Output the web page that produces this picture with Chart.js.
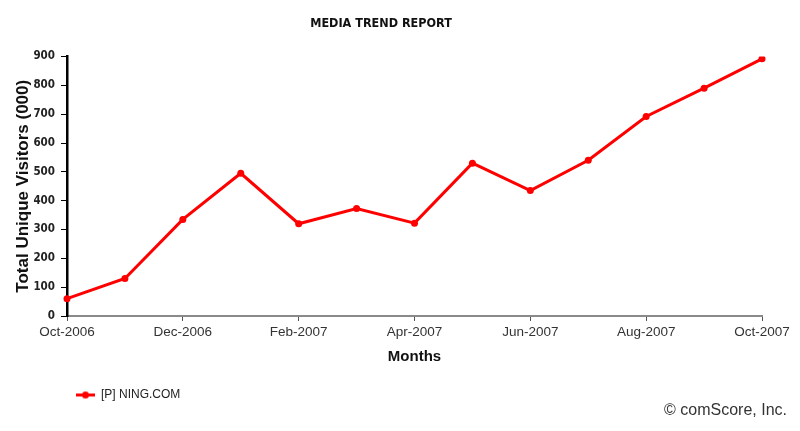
<!DOCTYPE html>
<html>
<head>
<meta charset="utf-8">
<title>Media Trend Report</title>
<script src="https://cdn.jsdelivr.net/npm/chart.js@4.4.1/dist/chart.umd.min.js"></script>
<style>
  body { margin: 0; background: #fff; }
  #wrap { position: relative; width: 800px; height: 431px; }
  #copy {
    position: absolute; right: 13px; top: 401px; line-height: 18px;
    font: 16px "Liberation Sans", Arial, sans-serif; color: #333;
  }
</style>
</head>
<body>
<div id="wrap">
  <canvas id="chart" width="800" height="431"></canvas>
  <div id="copy">© comScore, Inc.</div>
</div>
<script>
// monthly data
const months = [
  "Oct-2006", "Nov-2006", "Dec-2006", "Jan-2007", "Feb-2007", "Mar-2007", "Apr-2007",
  "May-2007", "Jun-2007", "Jul-2007", "Aug-2007", "Sep-2007", "Oct-2007",
];
const visitors = [60, 130, 335, 495, 320, 373, 322, 530, 435, 540, 692, 790, 892];
const seriesName = "[P] NING.COM";
const yMin = 0, yMax = 900, yStep = 100;

const red = "#ff0000";
const narrow = "'Liberation Sans Narrow', 'DejaVu Sans Condensed', sans-serif";
const arial = "'Liberation Sans', Arial, sans-serif";

// legend marker: blank space on the left pushes it off the edge, then line + dot
const marker = document.createElement("canvas");
marker.width = 85;
marker.height = 9;
const mctx = marker.getContext("2d");
mctx.strokeStyle = red;
mctx.lineWidth = 3;
mctx.beginPath();
mctx.moveTo(66, 4.5);
mctx.lineTo(85, 4.5);
mctx.stroke();
mctx.fillStyle = red;
mctx.beginPath();
mctx.arc(75.5, 4.5, 3.5, 0, Math.PI * 2);
mctx.fill();

const ctx = document.getElementById("chart").getContext("2d");

new Chart(ctx, {
  type: "line",
  data: {
    labels: months,
    datasets: [
      {
        label: seriesName,
        data: visitors,
        borderColor: red,
        backgroundColor: red,
        borderWidth: 3,
        pointRadius: 3.5,
        pointBorderWidth: 0,
        pointBackgroundColor: red,
        tension: 0,
        fill: false,
      },
    ],
  },
  options: {
    responsive: false,
    animation: false,
    devicePixelRatio: 1,
    layout: { padding: { left: 0, right: 38, top: 0, bottom: 20 } },
    plugins: {
      title: {
        display: true,
        text: "MEDIA TREND REPORT",
        color: "#111",
        font: { family: narrow, size: 12.5, weight: "bold" },
        padding: { top: 16.5, bottom: 25 },
      },
      legend: {
        position: "bottom",
        align: "start",
        labels: {
          usePointStyle: true,
          pointStyle: marker,
          pointStyleWidth: 85,
          padding: 10,
          color: "#222",
          font: { family: arial, size: 12 },
        },
      },
      tooltip: { enabled: false },
    },
    scales: {
      x: {
        afterFit: (s) => { s.height = 63; },
        grid: {
          drawOnChartArea: false,
          tickLength: 5,
          color: (c) => (c.index % 2 === 0 ? "#555" : "rgba(0,0,0,0)"),
        },
        border: { color: "#8a8a8a", width: 2 },
        ticks: {
          autoSkip: false,
          maxRotation: 0,
          padding: 3,
          color: "#333",
          font: { family: arial, size: 13.5 },
          callback: (v, i) => (i % 2 === 0 ? months[i] : ""),
        },
        title: {
          display: true,
          text: "Months",
          color: "#111",
          font: { family: arial, size: 15, weight: "bold" },
          padding: { top: 0, bottom: 13 },
        },
      },
      y: {
        min: yMin,
        max: yMax,
        afterFit: (s) => { s.width = 67; },
        grid: { drawOnChartArea: false, tickLength: 6, color: "#000" },
        border: { color: "#000", width: 2.5 },
        ticks: {
          stepSize: yStep,
          padding: 6,
          color: "#222",
          font: { family: narrow, size: 11.5, weight: "bold" },
        },
        title: {
          display: true,
          text: "Total Unique Visitors (000)",
          color: "#111",
          font: { family: arial, size: 17, weight: "bold" },
          padding: { top: 13, bottom: 0 },
        },
      },
    },
  },
});
</script>
</body>
</html>
